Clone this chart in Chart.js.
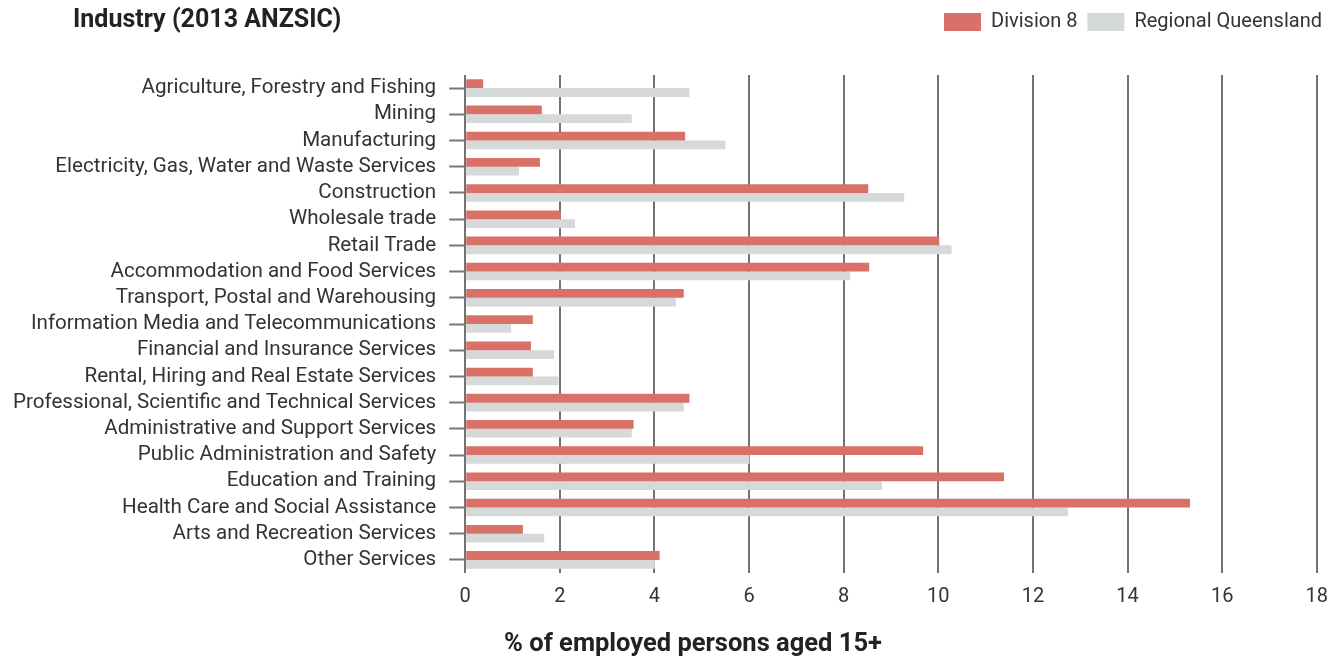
<!DOCTYPE html>
<html>
<head>
<meta charset="utf-8">
<script src="https://cdn.jsdelivr.net/npm/chart.js@4"></script>
<style>
html,body{margin:0;padding:0;background:#fff;}
#wrap{width:1340px;height:660px;position:relative;}
</style>
</head>
<body>
<div id="wrap"><canvas id="c" width="1340" height="660"></canvas></div>
<script>
const categories = [
  "Agriculture, Forestry and Fishing",
  "Mining",
  "Manufacturing",
  "Electricity, Gas, Water and Waste Services",
  "Construction",
  "Wholesale trade",
  "Retail Trade",
  "Accommodation and Food Services",
  "Transport, Postal and Warehousing",
  "Information Media and Telecommunications",
  "Financial and Insurance Services",
  "Rental, Hiring and Real Estate Services",
  "Professional, Scientific and Technical Services",
  "Administrative and Support Services",
  "Public Administration and Safety",
  "Education and Training",
  "Health Care and Social Assistance",
  "Arts and Recreation Services",
  "Other Services"
];
const division8 = [0.38, 1.62, 4.65, 1.58, 8.52, 2.02, 10.02, 8.54, 4.62, 1.43, 1.39, 1.43, 4.74, 3.56, 9.68, 11.39, 15.32, 1.22, 4.11];
const regionalQld = [4.74, 3.52, 5.50, 1.14, 9.28, 2.32, 10.28, 8.14, 4.45, 0.97, 1.88, 1.97, 4.62, 3.52, 6.01, 8.81, 12.74, 1.67, 4.01];
const seriesNames = ["Division 8", "Regional Queensland"];
const chartTitle = "Industry (2013 ANZSIC)";
const xAxisTitle = "% of employed persons aged 15+";
const xMin = 0, xMax = 18, xStep = 2;

const FONT = "Roboto";
const TEXT = "#333333";

const headings = {
  id: 'headings',
  afterDraw(chart) {
    const ctx = chart.ctx;
    ctx.save();
    ctx.fillStyle = "#222222";
    ctx.textBaseline = "middle";
    ctx.font = "bold 25px " + FONT;
    ctx.textAlign = "left";
    ctx.fillText(chartTitle, 73, 21);
    ctx.textAlign = "center";
    ctx.font = "bold 25.5px " + FONT;
    ctx.fillText(xAxisTitle, 693, 645);
    ctx.restore();
  }
};
const legendGap = {
  id: 'legendGap',
  beforeInit(chart) {
    const origFit = chart.legend.fit;
    chart.legend.fit = function () {
      origFit.bind(chart.legend)();
      this.height += 33;
    };
  }
};

new Chart(document.getElementById('c'), {
  type: 'bar',
  data: {
    labels: categories,
    datasets: [
      { label: seriesNames[0], data: division8, backgroundColor: "#d97168", barPercentage: 1, categoryPercentage: 0.67 },
      { label: seriesNames[1], data: regionalQld, backgroundColor: "#d5d9d9", barPercentage: 1, categoryPercentage: 0.67 }
    ]
  },
  options: {
    indexAxis: 'y',
    responsive: false,
    animation: false,
    layout: { padding: { left: 0, right: 8, top: 2, bottom: 39 } },
    plugins: {
      legend: {
        position: 'top',
        align: 'end',
        labels: {
          boxWidth: 37,
          boxHeight: 18,
          padding: 10,
          color: TEXT,
          font: { family: FONT, size: 20 }
        }
      },
      tooltip: { enabled: false },
      title: { display: false }
    },
    scales: {
      x: {
        min: xMin, max: xMax,
        ticks: { stepSize: xStep, color: TEXT, font: { family: FONT, size: 20 }, padding: 12 },
        grid: { color: "#737373", lineWidth: 2, drawTicks: false },
        border: { display: false }
      },
      y: {
        ticks: { color: TEXT, font: { family: FONT, size: 20.6 }, padding: 13, autoSkip: false },
        grid: { offset: false, drawOnChartArea: false, drawTicks: true, tickLength: 16, tickColor: "#777777", tickWidth: 2 },
        border: { display: false }
      }
    }
  },
  plugins: [legendGap, headings]
});
</script>
</body>
</html>
